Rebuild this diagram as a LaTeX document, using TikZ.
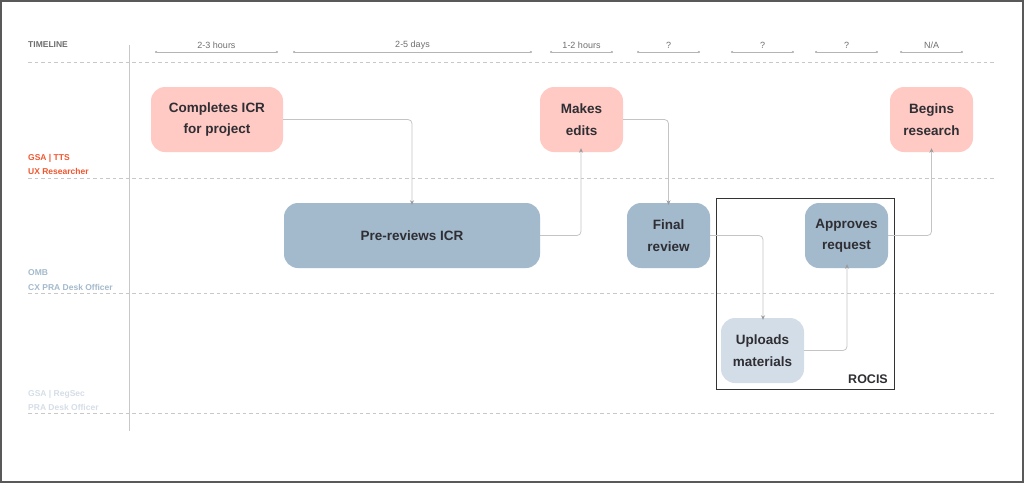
\documentclass[tikz,border=0pt]{standalone}
\usepackage{fontspec}
\setmainfont{Liberation Sans}
\usetikzlibrary{arrows.meta}
\definecolor{pinkbox}{HTML}{FFC9C4}
\definecolor{bluebox}{HTML}{A3B9CC}
\definecolor{lightbox}{HTML}{D3DDE7}
\definecolor{txt}{HTML}{2E2E33}
\definecolor{conn}{HTML}{C4C4C4}
\definecolor{dashc}{HTML}{C8C8C8}
\definecolor{tts}{HTML}{F0562E}
\definecolor{omb}{HTML}{A3B9CC}
\definecolor{regsec}{HTML}{D5DDE7}
\definecolor{tl}{HTML}{6E6E6E}
\definecolor{tlbar}{HTML}{B4B4B4}
\definecolor{tipc}{HTML}{9A9A9A}
\begin{document}
\begin{tikzpicture}[x=1pt,y=-1pt,
  box/.style={rounded corners=14pt, inner sep=0pt, text=txt,
    font=\fontsize{13.5}{21.5}\selectfont\bfseries, align=center},
  pinkst/.style={box, fill=pinkbox},
  bluest/.style={box, fill=bluebox},
  lightst/.style={box, fill=lightbox},
  connst/.style={draw=conn, line width=0.8pt, rounded corners=4pt, -{Stealth[length=4.5pt,width=4pt,color=tipc]}},
  lane/.style={draw=dashc, line width=0.8pt, dash pattern=on 3.5pt off 3pt},
  tlbarst/.style={draw=tlbar, line width=0.7pt, {Circle[length=2.2pt,width=2.2pt]}-{Circle[length=2.2pt,width=2.2pt]}},
  tllab/.style={text=tl, font=\fontsize{9}{10}\selectfont, inner sep=0pt},
  lanelab/.style={anchor=west, inner sep=0pt, font=\fontsize{8.5}{10}\selectfont\bfseries},
]
\useasboundingbox (0,0) rectangle (1024,483);
\draw[draw=black!65, line width=1.6pt] (0.8,0.8) rectangle (1023.2,482.2);

% header and lane separators
\node[tllab, anchor=west, font=\fontsize{8.5}{10}\selectfont\bfseries] (timeline) at (28,45) {TIMELINE};
\draw[draw=dashc, line width=0.8pt] (129,45) -- (129,431);
\foreach \yy in {62,178,293,413} \draw[lane] (28,\yy) -- (996,\yy);

% timeline bars
\foreach \xa/\xb/\lab in {155/278/{2-3 hours},293/532/{2-5 days},550/613/{1-2 hours},637/700/?,731/794/?,815/878/?,900/963/{N/A}}{
  \draw[tlbarst] (\xa,52) -- (\xb,52);
  \node[tllab] at ({(\xa+\xb)/2},45) {\lab};
}

% lane labels
\node[lanelab, text=tts] (l1a) at (28,158) {GSA | TTS};
\node[lanelab, text=tts] (l1b) at (28,171) {UX Researcher};
\node[lanelab, text=omb] (l2a) at (28,273) {OMB};
\node[lanelab, text=omb] (l2b) at (28,287) {CX PRA Desk Officer};
\node[lanelab, text=regsec] (l3a) at (28,394) {GSA | RegSec};
\node[lanelab, text=regsec] (l3b) at (28,407) {PRA Desk Officer};

% ROCIS frame
\draw[draw=black!80, line width=0.9pt] (716,198) rectangle (894,389);
\node[anchor=south east, inner sep=0pt, text=txt, font=\fontsize{12.5}{14}\selectfont\bfseries] (rocis) at (888,384) {ROCIS};

% nodes
\node[pinkst, minimum width=132pt, minimum height=65pt] (complete) at (217,119.5) {Completes ICR\\for project};
\node[pinkst, minimum width=83pt, minimum height=65pt] (edits) at (581.5,119.5) {Makes\\edits};
\node[pinkst, minimum width=83pt, minimum height=65pt] (begins) at (931.5,119.5) {Begins\\research};
\node[bluest, minimum width=256pt, minimum height=65pt] (prereview) at (412,235.5) {Pre-reviews ICR};
\node[bluest, minimum width=83pt, minimum height=65pt] (final) at (668.5,235.5) {Final\\review};
\node[bluest, minimum width=83pt, minimum height=65pt] (approves) at (846.5,235.5) {Approves\\request};
\node[lightst, minimum width=83pt, minimum height=65pt] (uploads) at (762.5,350.5) {Uploads\\materials};

% connectors
\draw[connst] (complete.east) -| ([yshift=-2pt]prereview.north);
\draw[connst] (prereview.east) -| ([xshift=-0.5pt,yshift=4pt]edits.south);
\draw[connst] (edits.east) -| ([yshift=-2pt]final.north);
\draw[connst] (final.east) -| ([xshift=0.5pt,yshift=-2pt]uploads.north);
\draw[connst] (uploads.east) -| ([xshift=0.5pt,yshift=4pt]approves.south);
\draw[connst] (approves.east) -| ([yshift=4pt]begins.south);
\end{tikzpicture}
\end{document}
